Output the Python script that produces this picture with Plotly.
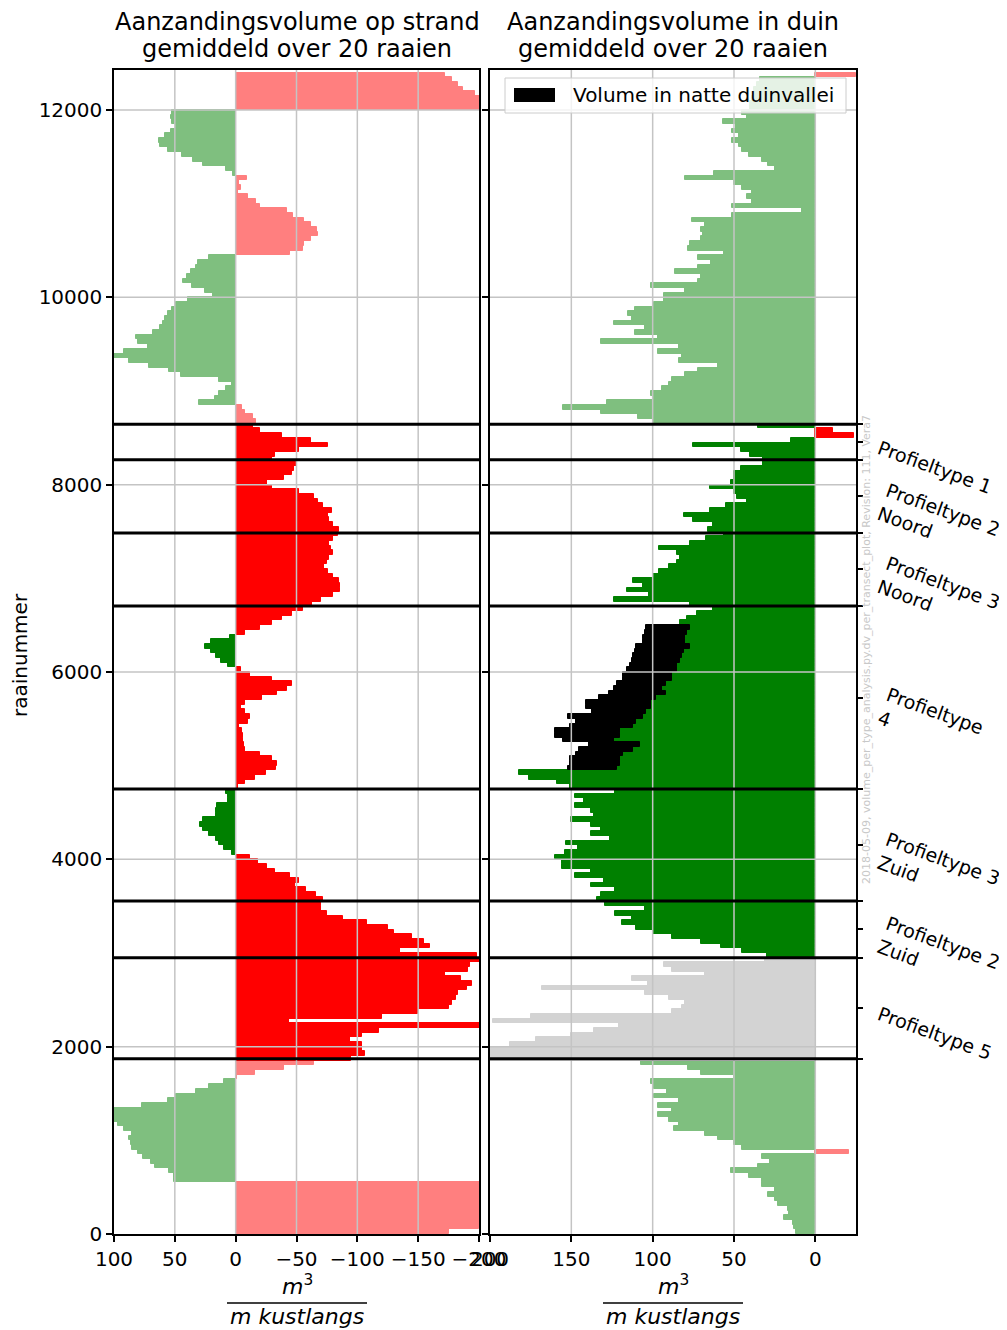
import numpy as np
import plotly.graph_objects as go

PAGE_W, PAGE_H = 1007, 1330
OFF = 8                      # default page margin around the figure
W, H = PAGE_W - OFF, PAGE_H - OFF
FONT = "DejaVu Sans"
STEP = 50  # raaien per bar

# Aanzandingsvolume op strand (m3/m), bins of 50 raaien starting at raai 0
strand = [
    -175, -200, -210, -210, -210, -210, -210, -210, -210, -210, -210, 51, 51, 55, 66, 70, 76, 80, 85, 86,
    88, 85, 92, 97, 102, 102, 100, 77, 56, 49, 33, 22, 10, -1, -16, -40, -64, -95, -106, -104,
    -104, -94, -104, -118, -205, -44, -120, -150, -175, -178, -181, -183, -190, -194, -185, -172, -191, -193, -205, -198,
    -135, -160, -155, -145, -130, -125, -108, -88, -75, -70, -70, -72, -66, -58, -49, -52, -45, -32, -26, -18,
    -12, 3, 10, 14, 16, 22, 27, 29, 27, 16, 16, 15, 6, 6, 8, -2, -8, -16, -25, -33,
    -34, -30, -20, -8, -7, -6, -6, -5, -3, -10, -12, -8, -4, -8, -22, -34, -42, -46, -30, -12,
    -4, 6, 12, 16, 20, 25, 20, 5, -8, -20, -30, -38, -46, -55, -63, -70, -80, -86, -86, -85,
    -80, -76, -73, -75, -77, -80, -78, -77, -80, -84, -85, -80, -77, -76, -79, -72, -68, -64, -52, -30,
    -26, -40, -46, -48, -50, -30, -32, -52, -76, -62, -38, -20, -14, -17, -14, -8, -5, 30, 17, 14,
    8, 3, 14, 45, 55, 71, 88, 100, 92, 72, 80, 82, 68, 62, 60, 58, 56, 52, 49, 39,
    19, 25, 36, 43, 40, 37, 33, 31, 22, -45, -55, -56, -62, -68, -67, -62, -56, -47, -42, -20,
    -17, -10, -2, -4, -3, -9, 2, 8, 27, 35, 44, 56, 62, 63, 58, 53, 49, 52, 53, 52,
    -205, -205, -205, -197, -187, -183, -178, -172,
]

# Aanzandingsvolume in duin (m3/m)
duin = [
    12, 13, 14, 19, 16, 17, 23, 25, 29, 25, 33, 33, 41, 52, 35, 28, 33, -21, 45, 50,
    60, 68, 87, 84, 90, 97, 88, 97, 84, 99, 91, 99, 101, 50, 70, 78, 107, 205, 205, 205,
    188, 172, 150, 136, 121, 198, 175, 88, 82, 80, 90, 105, 168, 103, 113, 68, 88, 93, 31, 30,
    45, 58, 70, 88, 100, 110, 119, 113, 123, 105, 129, 134, 132, 123, 138, 130, 148, 138, 156, 156,
    160, 154, 146, 153, 126, 138, 132, 138, 150, 136, 138, 148, 142, 148, 123, 151, 159, 176, 182, 122,
    120, 120, 118, 112, 108, 124, 120, 120, 112, 110, 106, 104, 101, 101, 98, 92, 94, 92, 88, 88,
    85, 85, 83, 82, 81, 77, 80, 80, 79, 77, 83, 79, 73, 63, 77, 124, 102, 116, 106, 112,
    100, 96, 90, 85, 83, 85, 96, 77, 67, 56, 66, 63, 75, 81, 65, 55, 42, 48, 50, 65,
    52, 50, 50, 46, 32, 32, 40, 46, 75, 15, -24, -11, 35, 100, 109, 132, 155, 128, 99, 101,
    94, 90, 88, 80, 72, 60, 84, 82, 97, 84, 132, 97, 111, 105, 124, 113, 115, 111, 99, 93,
    93, 80, 101, 72, 70, 86, 72, 64, 72, 56, 78, 77, 70, 69, 70, 68, 76, 51, 8, 51,
    39, 42, 39, 45, 50, 80, 62, 25, 29, 33, 41, 45, 47, 51, 47, 51, 49, 57, 42, 45,
    40, 40, 39, 38, 38, 36, 34, -25,
]

# Volume in natte duinvallei (stacked on top of duin), starting at raai 4950
vallei_start = 4950
vallei = [30,
          31, 31, 29, 33, 31, 31, 40, 40, 39, 37, 46, 33, 40, 40, 35, 35, 30, 30, 30, 30,
          31, 29, 30, 30, 30, 33, 26, 26, 26, 27]

profile_bounds = [1870, 2950, 3555, 4750, 6705, 7485, 8265, 8645]
profile_labels = ["Profieltype 5", "Profieltype 2<br>Zuid", "Profieltype 3<br>Zuid",
                  "Profieltype<br>4", "Profieltype 3<br>Noord", "Profieltype 2<br>Noord",
                  "Profieltype 1"]
y_ticks = [0, 2000, 4000, 6000, 8000, 10000, 12000]
x1_ticks = [100, 50, 0, -50, -100, -150, -200]
x2_ticks = [200, 150, 100, 50, 0]
x1_range = [100, -200]
x2_range = [200, -25]
y_range = [0, 12427]

titles = [["Aanzandingsvolume op strand", "gemiddeld over 20 raaien"],
          ["Aanzandingsvolume in duin", "gemiddeld over 20 raaien"]]
legend_text = "Volume in natte duinvallei"
watermark = "2018-05-09, volume_per_type_analysis.py.dv_per_transect_plot, Revision: 111, Vera7"

GREEN, GREEN_L = "#008000", "#7fbf7f"
RED, RED_L = "#ff0000", "#ff7f7f"
GRAY = "#d3d3d3"
GRID = "#c4c4c4"


def fx(p):  # page pixel -> paper fraction
    return (p - OFF) / W


def fy(p):
    return 1 - (p - OFF) / H


raai = np.arange(len(strand)) * STEP + STEP / 2


def colour_strand(r, v):
    strong = profile_bounds[0] <= r <= profile_bounds[-1]
    if v >= 0:
        return GREEN if strong else GREEN_L
    return RED if strong else RED_L


def colour_duin(r, v):
    if profile_bounds[0] <= r <= profile_bounds[1] and v >= 0:
        return GRAY
    return colour_strand(r, v)


c1 = [colour_strand(r, v) for r, v in zip(raai, strand)]
c2 = [colour_duin(r, v) for r, v in zip(raai, duin)]

i0 = int(vallei_start // STEP)
v_raai = raai[i0:i0 + len(vallei)]
v_base = duin[i0:i0 + len(vallei)]

fig = go.Figure()
fig.add_trace(go.Bar(y=raai, x=strand, orientation="h", width=STEP,
                     marker=dict(color=c1, line=dict(color=c1, width=1)),
                     xaxis="x", yaxis="y", showlegend=False))
fig.add_trace(go.Bar(y=raai, x=duin, orientation="h", width=STEP,
                     marker=dict(color=c2, line=dict(color=c2, width=1)),
                     xaxis="x2", yaxis="y2", showlegend=False))
fig.add_trace(go.Bar(y=v_raai, x=vallei, base=v_base, orientation="h", width=STEP,
                     marker=dict(color="black", line=dict(color="black", width=1)),
                     name=legend_text, xaxis="x2", yaxis="y2", showlegend=False))
fig.add_trace(go.Scatter(x=[0], y=[0], mode="markers", marker=dict(opacity=0),
                         hoverinfo="skip", xaxis="x2", yaxis="y3", showlegend=False))

axis_common = dict(showline=True, linecolor="black", linewidth=1.5, mirror=True,
                   ticks="outside", ticklen=6, tickwidth=1.5, tickcolor="black",
                   showgrid=False, zeroline=False, automargin=False,
                   tickfont=dict(size=20, color="black", family=FONT))
ydom = [fy(1234), fy(70)]
fig.update_layout(
    width=W, height=H, margin=dict(l=0, r=0, t=0, b=0, autoexpand=False),
    paper_bgcolor="white", plot_bgcolor="white",
    barmode="overlay", bargap=0,
    font=dict(family=FONT, color="black"),
    xaxis=dict(domain=[fx(114), fx(479)], range=x1_range, tickvals=x1_ticks,
               anchor="y", **axis_common),
    yaxis=dict(domain=ydom, range=y_range, tickvals=y_ticks, tickformat="d",
               anchor="x", **axis_common),
    xaxis2=dict(domain=[fx(490), fx(856)], range=x2_range, tickvals=x2_ticks,
                anchor="y2", **axis_common),
    yaxis2=dict(domain=ydom, range=y_range, tickvals=y_ticks, anchor="x2",
                showticklabels=False, **{k: v for k, v in axis_common.items() if k != "tickfont"}),
    yaxis3=dict(overlaying="y2", side="right", anchor="x2", range=y_range,
                tickvals=profile_bounds + [(a + b) / 2 for a, b in zip(profile_bounds[:-1], profile_bounds[1:])],
                ticks="outside", ticklen=6, tickwidth=1.5, tickcolor="black", automargin=False,
                showticklabels=False, showgrid=False, zeroline=False, showline=False),
)

shapes = []
# gridlines drawn above the bars (as in the reference)
for xa, ya, ticks, rng in (("x", "y", x1_ticks, x1_range), ("x2", "y2", x2_ticks, x2_range)):
    lo, hi = min(rng), max(rng)
    for t in ticks:
        if lo < t < hi:
            shapes.append(dict(type="line", xref=xa, yref=ya + " domain", x0=t, x1=t, y0=0, y1=1,
                               line=dict(color=GRID, width=1.5), layer="above"))
    for t in y_ticks:
        if y_range[0] < t < y_range[1]:
            shapes.append(dict(type="line", xref=xa + " domain", yref=ya, x0=0, x1=1, y0=t, y1=t,
                               line=dict(color=GRID, width=1.5), layer="above"))
# profile boundaries
for xa, ya in (("x", "y"), ("x2", "y2")):
    for b in profile_bounds:
        shapes.append(dict(type="line", xref=xa + " domain", yref=ya, x0=0, x1=1, y0=b, y1=b,
                           line=dict(color="black", width=3), layer="above"))
# legend box
shapes.append(dict(type="rect", xref="paper", yref="paper", x0=fx(505), x1=fx(846),
                   y0=fy(113), y1=fy(78), fillcolor="rgba(255,255,255,0.8)",
                   line=dict(color="#cccccc", width=1), layer="above"))
shapes.append(dict(type="rect", xref="paper", yref="paper", x0=fx(514), x1=fx(555),
                   y0=fy(102), y1=fy(88), fillcolor="black", line=dict(width=0), layer="above"))
# fraction bars of x-axis labels
for c in (297, 673):
    shapes.append(dict(type="line", xref="paper", yref="paper", x0=fx(c - 70), x1=fx(c + 70),
                       y0=fy(1303), y1=fy(1303), line=dict(color="black", width=1.5)))
fig.update_layout(shapes=shapes)

ann = []
for (l1, l2), cx in zip(titles, (297, 673)):
    ann.append(dict(text=l1, x=fx(cx), y=fy(22), xref="paper", yref="paper", showarrow=False,
                    xanchor="center", yanchor="middle", font=dict(size=24, family=FONT)))
    ann.append(dict(text=l2, x=fx(cx), y=fy(49), xref="paper", yref="paper", showarrow=False,
                    xanchor="center", yanchor="middle", font=dict(size=24, family=FONT)))
for cx in (297, 673):
    ann.append(dict(text="<i>m</i><sup>3</sup>", x=fx(cx), y=fy(1285), xref="paper", yref="paper",
                    showarrow=False, xanchor="center", yanchor="middle", font=dict(size=22, family=FONT)))
    ann.append(dict(text="<i>m kustlangs</i>", x=fx(cx), y=fy(1316), xref="paper", yref="paper",
                    showarrow=False, xanchor="center", yanchor="middle", font=dict(size=22, family=FONT)))
ann.append(dict(text="raainummer", x=fx(20), y=fy(655), xref="paper", yref="paper", textangle=-90,
                showarrow=False, xanchor="center", yanchor="middle", font=dict(size=20, family=FONT)))
ann.append(dict(text=legend_text, x=fx(571), y=fy(95), xref="paper", yref="paper", showarrow=False,
                xanchor="left", yanchor="middle", font=dict(size=20, family=FONT)))
ann.append(dict(text=watermark, x=fx(866), y=fy(650), xref="paper", yref="paper", textangle=-90,
                showarrow=False, xanchor="center", yanchor="middle",
                font=dict(size=11, family=FONT, color="#c8c8c8")))
mids = [(a + b) / 2 for a, b in zip(profile_bounds[:-1], profile_bounds[1:])]
for lab, m in zip(profile_labels, mids):
    ann.append(dict(text=lab, x=fx(872), y=m, xref="paper", yref="y2", yshift=-25, textangle=20,
                    showarrow=False, xanchor="left", yanchor="middle", align="left",
                    font=dict(size=19, family=FONT)))
fig.update_layout(annotations=ann)

fig.write_html("out.html")
